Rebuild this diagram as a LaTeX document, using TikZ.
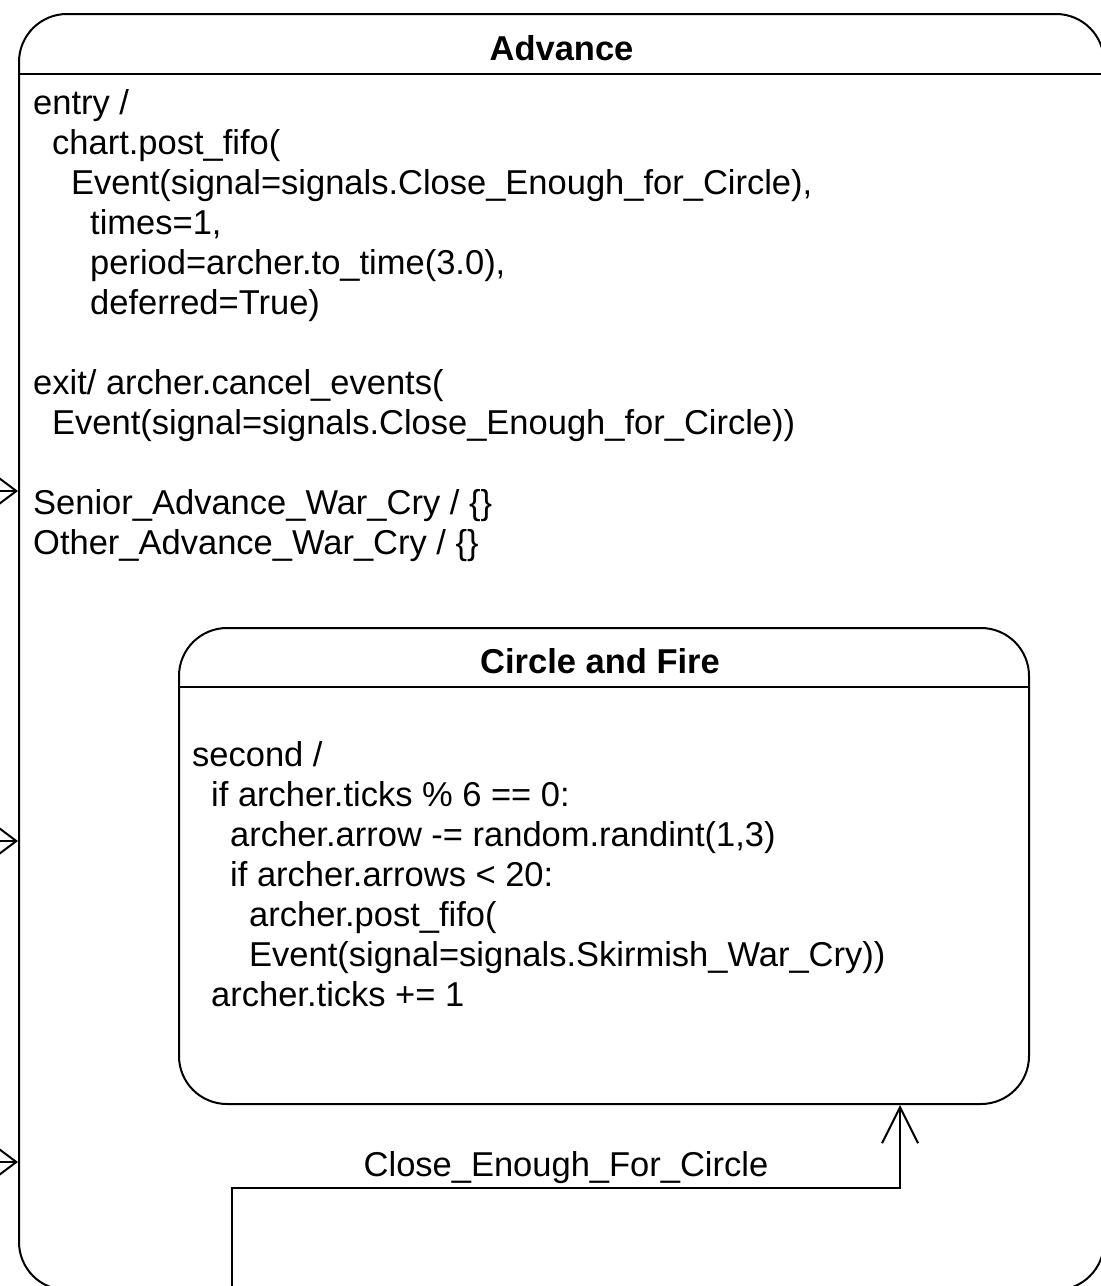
\documentclass[tikz,border=0pt]{standalone}
\usepackage{fontspec}
\setmainfont{Liberation Sans}
\usetikzlibrary{arrows.meta}

\begin{document}
\begin{tikzpicture}[x=1pt,y=-1pt,
    statebox/.style={draw,line width=2pt,rounded corners=48pt,inner sep=0pt},
    statetitle/.style={inner sep=0pt,font=\fontsize{34.5}{40}\selectfont\bfseries},
    txt/.style={anchor=base west,inner sep=0pt,font=\fontsize{34.5}{40}\selectfont},
    trans/.style={line width=2pt,-{Straight Barb[length=36pt,width=36pt]}},
    intrans/.style={line width=2pt,-{Straight Barb[length=24pt,width=36pt]}}]
    \useasboundingbox (0,0) rectangle (1101,1286);

    % outer state
    \node[statebox,minimum width=1085pt,minimum height=1276pt] (advance) at (561.5,652) {};
    \node[statetitle] (advtitle) at (561.5,48) {Advance};
    \draw[line width=2pt] (advance.west |- 0,74) -- (advance.east |- 0,74);

    \node[txt] (entry) at (33,114) {entry /};
    \node[txt] (post) at (52,154) {chart.post\_fifo(};
    \node[txt] (evt) at (71,194) {Event(signal=signals.Close\_Enough\_for\_Circle),};
    \node[txt] (times) at (90,234) {times=1,};
    \node[txt] (period) at (90,274) {period=archer.to\_time(3.0),};
    \node[txt] (deferred) at (90,314) {deferred=True)};
    \node[txt] (exit) at (33,394) {exit/ archer.cancel\_events(};
    \node[txt] (cancel) at (52,434) {Event(signal=signals.Close\_Enough\_for\_Circle))};
    \node[txt] (senior) at (33,514) {Senior\_Advance\_War\_Cry / \{\}};
    \node[txt] (other) at (33,554) {Other\_Advance\_War\_Cry / \{\}};

    % inner state
    \node[statebox,minimum width=850pt,minimum height=476pt] (cfire) at (604,866) {};
    \node[statetitle] (cftitle) at (600,661) {Circle and Fire};
    \draw[line width=2pt] (cfire.west |- 0,687) -- (cfire.east |- 0,687);

    \node[txt] (second) at (192,766) {second /};
    \node[txt] (ifticks) at (211,806) {if archer.ticks \% 6 == 0:};
    \node[txt] (arrowdec) at (230,846) {archer.arrow -= random.randint(1,3)};
    \node[txt] (ifarrows) at (230,886) {if archer.arrows < 20:};
    \node[txt] (postfifo) at (249,926) {archer.post\_fifo(};
    \node[txt] (skirmish) at (249,966) {Event(signal=signals.Skirmish\_War\_Cry))};
    \node[txt] (ticks) at (211,1006) {archer.ticks += 1};

    % transitions
    \coordinate (start) at (232,1300);
    \coordinate (bend) at (900,1188);
    \draw[trans] (start) |- node[pos=0.75,anchor=base,yshift=12pt,inner sep=0pt,
        font=\fontsize{34.5}{40}\selectfont] (cefc) {Close\_Enough\_For\_Circle}
        (bend) -- (bend |- cfire.south);

    \foreach \y/\n in {491/insen,841/incir,1162/inlow} {
        \coordinate (\n) at (-10,\y);
        \draw[intrans] (\n) -- (\n -| advance.west);
    }
\end{tikzpicture}
\end{document}
